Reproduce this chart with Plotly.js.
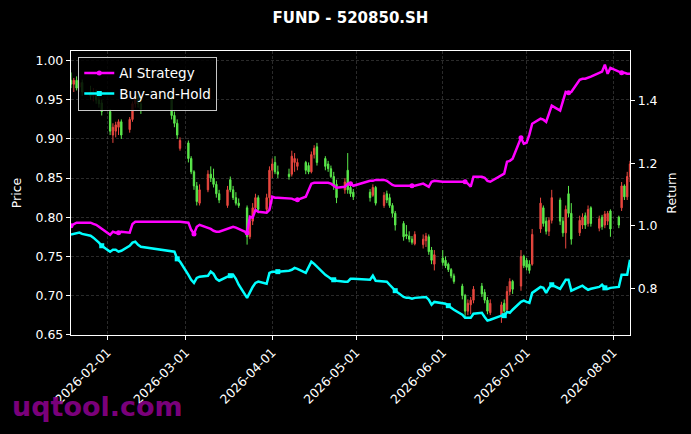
<!DOCTYPE html>
<html>
<head>
<meta charset="utf-8">
<script src="https://cdn.plot.ly/plotly-3.0.1.min.js"></script>
<style>
  html, body { margin: 0; background: #000; }
  #chart { width: 691px; height: 434px; }
</style>
</head>
<body>
<div id="chart"></div>
<script>
// trading days shown on the chart
const dates = [
  "2026-01-19","2026-01-20","2026-01-21","2026-01-22","2026-01-23","2026-01-26","2026-01-27","2026-01-28","2026-01-29","2026-01-30",
  "2026-02-02","2026-02-03","2026-02-04","2026-02-05","2026-02-06","2026-02-09","2026-02-10","2026-02-11","2026-02-12","2026-02-13",
  "2026-02-24","2026-02-25","2026-02-26","2026-02-27","2026-03-02","2026-03-03","2026-03-04","2026-03-05","2026-03-06","2026-03-09",
  "2026-03-10","2026-03-11","2026-03-12","2026-03-13","2026-03-16","2026-03-17","2026-03-18","2026-03-19","2026-03-20","2026-03-23",
  "2026-03-24","2026-03-25","2026-03-26","2026-03-27","2026-03-30","2026-03-31","2026-04-01","2026-04-02","2026-04-03","2026-04-07",
  "2026-04-08","2026-04-09","2026-04-10","2026-04-13","2026-04-14","2026-04-15","2026-04-16","2026-04-17","2026-04-20","2026-04-21",
  "2026-04-22","2026-04-23","2026-04-24","2026-04-27","2026-04-28","2026-04-29","2026-04-30","2026-05-06","2026-05-07","2026-05-08",
  "2026-05-11","2026-05-12","2026-05-13","2026-05-14","2026-05-15","2026-05-18","2026-05-19","2026-05-20","2026-05-21","2026-05-22",
  "2026-05-25","2026-05-26","2026-05-27","2026-05-28","2026-05-29","2026-06-01","2026-06-02","2026-06-03","2026-06-04","2026-06-05",
  "2026-06-08","2026-06-09","2026-06-10","2026-06-11","2026-06-12","2026-06-15","2026-06-16","2026-06-17","2026-06-18","2026-06-22",
  "2026-06-23","2026-06-24","2026-06-25","2026-06-26","2026-06-29","2026-06-30","2026-07-01","2026-07-02","2026-07-03","2026-07-06",
  "2026-07-07","2026-07-08","2026-07-09","2026-07-10","2026-07-13","2026-07-14","2026-07-15","2026-07-16","2026-07-17","2026-07-20",
  "2026-07-21","2026-07-22","2026-07-23","2026-07-24","2026-07-27","2026-07-28","2026-07-29","2026-07-30","2026-07-31","2026-08-03",
  "2026-08-04","2026-08-05","2026-08-06","2026-08-07"
];

const openPx = [
  .975,.970,.975,.966,.972,.960,.955,.960,.950,.946,
  .935,.905,.910,.915,.922,.912,.925,.945,.955,.945,
  .955,.930,.920,.888,.895,.875,.858,.840,.818,.835,
  .855,.850,.842,.830,.815,.848,.835,.825,.818,.812,
  .775,.795,.812,.825,.810,.825,.860,.870,.858,.855,
  .855,.870,.865,.870,.866,.858,.880,.890,.875,.868,
  .862,.852,.842,.835,.860,.838,.832,.832,.828,.838,
  .815,.830,.825,.815,.805,.792,.778,.776,.772,.766,
  .765,.770,.775,.758,.740,.748,.745,.740,.733,.725,
  .712,.700,.680,.688,.694,.712,.704,.694,.678,.675,
  .690,.682,.705,.718,.712,.750,.745,.740,.740,.785,
  .812,.795,.782,.796,.822,.795,.780,.830,.805,.780,
  .790,.802,.792,.812,.786,.800,.790,.795,.808,.800,
  .812,.840,.826,.852
];
const highPx = [
  .985,.978,.980,.975,.976,.968,.965,.963,.958,.950,
  .938,.920,.922,.925,.925,.928,.948,.960,.958,.950,
  .958,.935,.925,.902,.898,.878,.860,.845,.842,.860,
  .865,.862,.846,.835,.840,.852,.840,.832,.824,.815,
  .800,.818,.830,.828,.830,.865,.875,.878,.866,.862,
  .885,.882,.875,.872,.870,.884,.892,.895,.878,.872,
  .866,.858,.848,.850,.882,.842,.836,.836,.842,.840,
  .832,.834,.830,.818,.808,.795,.790,.782,.776,.782,
  .778,.780,.778,.762,.758,.758,.750,.742,.735,.728,
  .715,.702,.695,.698,.712,.716,.708,.698,.695,.692,
  .695,.712,.722,.720,.758,.752,.748,.745,.785,.825,
  .815,.800,.800,.835,.825,.800,.815,.840,.818,.802,
  .805,.806,.815,.814,.802,.803,.808,.808,.810,.802,
  .845,.842,.858,.872
];
const lowPx = [
  .965,.960,.962,.960,.955,.950,.948,.945,.940,.930,
  .905,.895,.902,.905,.900,.908,.922,.940,.940,.932,
  .925,.915,.900,.885,.870,.855,.835,.815,.815,.832,
  .845,.838,.825,.818,.812,.832,.822,.815,.812,.765,
  .772,.790,.808,.805,.805,.815,.850,.855,.850,.848,
  .852,.858,.860,.855,.855,.856,.875,.866,.860,.858,
  .850,.835,.818,.830,.830,.826,.822,.820,.826,.815,
  .812,.818,.812,.800,.783,.770,.772,.768,.765,.764,
  .760,.762,.752,.740,.732,.738,.735,.730,.722,.715,
  .695,.672,.675,.676,.690,.698,.690,.676,.675,.665,
  .675,.678,.700,.702,.706,.735,.732,.728,.738,.780,
  .788,.778,.776,.792,.790,.775,.760,.800,.765,.776,
  .785,.785,.788,.788,.782,.784,.786,.790,.775,.786,
  .808,.822,.822,.845
];
const closePx = [
  .970,.975,.965,.972,.960,.955,.960,.950,.945,.935,
  .910,.915,.918,.922,.905,.925,.945,.955,.945,.938,
  .930,.920,.905,.898,.875,.858,.840,.820,.835,.855,
  .850,.842,.830,.822,.835,.835,.825,.818,.815,.775,
  .795,.812,.825,.810,.825,.860,.868,.858,.855,.852,
  .878,.875,.870,.860,.858,.880,.888,.870,.865,.862,
  .852,.840,.825,.845,.835,.830,.826,.825,.838,.818,
  .828,.822,.815,.805,.790,.775,.776,.772,.768,.778,
  .772,.776,.756,.745,.752,.742,.738,.733,.725,.718,
  .700,.680,.690,.694,.708,.702,.694,.680,.690,.688,
  .680,.705,.718,.708,.750,.738,.736,.732,.778,.818,
  .792,.782,.796,.825,.795,.780,.810,.805,.772,.796,
  .800,.790,.810,.792,.798,.788,.804,.805,.785,.790,
  .840,.826,.852,.868
];

const strategyReturn = [
  1.000,1.006,1.010,1.010,1.010,1.010,1.006,1.003,0.997,0.990,
  0.971,0.981,0.978,0.978,0.981,0.978,1.006,1.013,1.013,1.013,
  1.013,1.013,1.013,1.013,1.010,0.987,0.974,0.997,1.003,0.994,
  0.990,0.984,0.981,0.981,0.990,0.994,0.997,0.994,0.990,0.978,
  1.029,1.026,1.051,1.045,1.042,1.051,1.093,1.090,1.090,1.087,
  1.087,1.083,1.083,1.093,1.115,1.135,1.138,1.138,1.138,1.138,
  1.135,1.128,1.122,1.125,1.135,1.135,1.128,1.144,1.144,1.147,
  1.147,1.144,1.138,1.131,1.128,1.128,1.128,1.128,1.128,1.128,
  1.135,1.131,1.125,1.141,1.144,1.141,1.141,1.141,1.141,1.141,
  1.141,1.141,1.135,1.125,1.157,1.157,1.154,1.144,1.141,1.160,
  1.167,1.205,1.208,1.215,1.282,1.263,1.266,1.292,1.327,1.343,
  1.340,1.333,1.359,1.385,1.369,1.397,1.429,1.426,1.429,1.468,
  1.471,1.471,1.474,1.478,1.490,1.494,1.516,1.487,1.506,1.494,
  1.490,1.490,1.487,1.487
];
const holdReturn = [
  0.972,0.974,0.978,0.978,0.974,0.968,0.962,0.955,0.946,0.936,
  0.917,0.923,0.923,0.917,0.920,0.936,0.946,0.949,0.939,0.933,
  0.920,0.917,0.894,0.885,0.843,0.827,0.817,0.833,0.837,0.840,
  0.853,0.846,0.830,0.824,0.837,0.840,0.843,0.830,0.811,0.769,
  0.788,0.804,0.817,0.821,0.814,0.849,0.853,0.853,0.853,0.856,
  0.859,0.865,0.862,0.849,0.865,0.885,0.878,0.869,0.843,0.837,
  0.830,0.827,0.824,0.821,0.821,0.830,0.830,0.827,0.840,0.824,
  0.821,0.821,0.811,0.801,0.792,0.772,0.769,0.769,0.766,0.769,
  0.772,0.772,0.763,0.747,0.756,0.753,0.750,0.744,0.737,0.731,
  0.715,0.705,0.705,0.705,0.718,0.721,0.708,0.696,0.699,0.712,
  0.712,0.724,0.721,0.731,0.756,0.760,0.756,0.753,0.785,0.804,
  0.801,0.785,0.801,0.811,0.798,0.814,0.827,0.827,0.792,0.804,
  0.808,0.801,0.795,0.798,0.804,0.811,0.801,0.798,0.801,0.804,
  0.843,0.843,0.843,0.891
];

const upColor = "#e8473f";
const downColor = "#5ae84b";
const gridColor = "rgba(140,140,140,0.5)";

const traces = [
  {
    type: "candlestick",
    x: dates,
    open: openPx,
    high: highPx,
    low: lowPx,
    close: closePx,
    yaxis: "y",
    showlegend: false,
    whiskerwidth: 0,
    increasing: { line: { color: upColor, width: 1 }, fillcolor: upColor },
    decreasing: { line: { color: downColor, width: 1 }, fillcolor: downColor },
  },
  {
    type: "scatter",
    mode: "lines+markers",
    name: "AI Strategy",
    x: dates,
    y: strategyReturn,
    yaxis: "y2",
    line: { color: "#ff00ff", width: 2.5 },
    marker: { symbol: "circle", size: 5, color: "#ff00ff", maxdisplayed: 11 },
  },
  {
    type: "scatter",
    mode: "lines+markers",
    name: "Buy-and-Hold",
    x: dates,
    y: holdReturn,
    yaxis: "y2",
    line: { color: "#00ffff", width: 2.5 },
    marker: { symbol: "square", size: 5, color: "#00ffff", maxdisplayed: 11 },
  },
];

const layout = {
  width: 691,
  height: 434,
  paper_bgcolor: "#000",
  plot_bgcolor: "#000",
  margin: { l: 71, r: 61, t: 51, b: 99 },
  font: { family: "DejaVu Sans", color: "#fff", size: 12.5 },
  title: {
    text: "<b>FUND - 520850.SH</b>",
    x: 0.5,
    xref: "paper",
    y: 0.958,
    yref: "container",
    yanchor: "middle",
    font: { size: 15, color: "#fff" },
  },
  showlegend: true,
  legend: {
    x: 0.013,
    y: 0.98,
    xanchor: "left",
    yanchor: "top",
    bgcolor: "rgba(0,0,0,0.85)",
    bordercolor: "#c8c8c8",
    borderwidth: 1,
    font: { size: 13.5, color: "#fff" },
    tracegroupgap: 0,
  },
  xaxis: {
    type: "date",
    range: ["2026-01-19", "2026-08-07"],
    rangeslider: { visible: false },
    tick0: "2026-02-01",
    dtick: "M1",
    tickformat: "%Y-%m-%d",
    tickangle: -45,
    ticks: "outside",
    ticklen: 4,
    tickcolor: "#fff",
    showline: true,
    linecolor: "#fff",
    linewidth: 1.2,
    mirror: true,
    showgrid: true,
    gridcolor: gridColor,
    griddash: "3px,2px",
    gridwidth: 0.6,
    zeroline: false,
  },
  yaxis: {
    range: [0.6495, 1.0124],
    tick0: 0.65,
    dtick: 0.05,
    tickformat: ".2f",
    ticks: "outside",
    ticklen: 4,
    tickcolor: "#fff",
    showline: true,
    linecolor: "#fff",
    linewidth: 1.2,
    showgrid: true,
    gridcolor: gridColor,
    griddash: "3px,2px",
    gridwidth: 0.6,
    zeroline: false,
    title: { text: "Price", font: { size: 12.5 }, standoff: 11 },
  },
  yaxis2: {
    overlaying: "y",
    side: "right",
    range: [0.650, 1.560],
    tick0: 0.8,
    dtick: 0.2,
    tickformat: ".1f",
    ticks: "outside",
    ticklen: 4,
    tickcolor: "#fff",
    showline: true,
    linecolor: "#fff",
    linewidth: 1.2,
    showgrid: false,
    zeroline: false,
    title: { text: "Return", font: { size: 12.5 }, standoff: 10 },
  },
  annotations: [
    {
      text: "<b>uqtool.com</b>",
      xref: "paper",
      yref: "paper",
      x: -0.109,
      y: -0.2535,
      xanchor: "left",
      yanchor: "middle",
      showarrow: false,
      font: { size: 27, color: "rgba(140,0,140,0.9)" },
    },
  ],
};

Plotly.newPlot("chart", traces, layout, { staticPlot: true });
</script>
</body>
</html>
